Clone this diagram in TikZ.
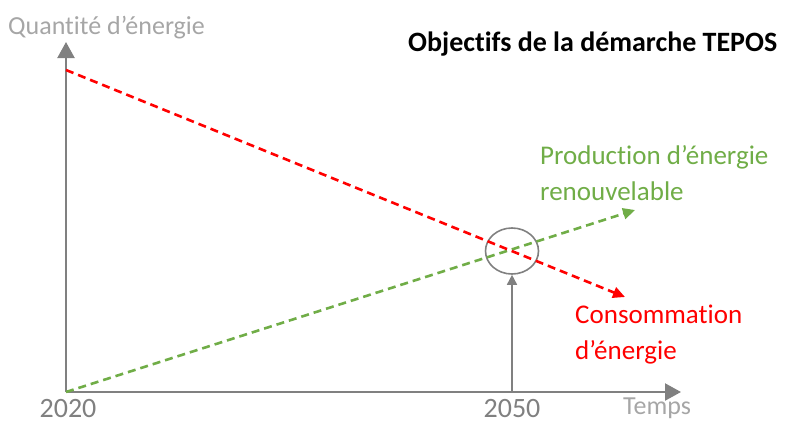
\documentclass[tikz,border=0pt]{standalone}
\usepackage{fontspec}
\setmainfont{Carlito}[Ligatures=NoCommon]
\usetikzlibrary{arrows.meta,shapes.geometric}
\definecolor{axegris}{HTML}{808080}
\definecolor{textegris}{HTML}{A6A6A6}
\definecolor{prodvert}{HTML}{70AD47}
\definecolor{consorouge}{HTML}{FF0000}

\begin{document}
\begin{tikzpicture}[x=1pt,y=-1pt,
		axe/.style={draw=axegris,line width=2.2pt,-{Triangle[length=16pt,width=17pt]}},
		fleche2050/.style={draw=axegris,line width=1.6pt,-{Triangle[length=10pt,width=10pt]}},
		courbe/.style={line width=2.6pt,dash pattern=on 8pt off 5pt,-{Triangle[length=12pt,width=11pt]}},
		etiquette/.style={inner sep=0pt,font=\fontsize{27}{36}\selectfont}]
		\useasboundingbox (0,0) rectangle (792,423);
%		\draw[help lines] (0,0) grid (792,423);
		\path (66,392) coordinate (origine);
		\path (66,42) coordinate (ytip);
		\path (681,392) coordinate (xtip);
		\path (512,392) coordinate (an2050);
		\path (66,70) coordinate (conso_debut);
		\path (625,297) coordinate (conso_fin);
		\path (635,210) coordinate (prod_fin);

		\node (cible) [ellipse,draw=axegris,line width=1.6pt,minimum width=53pt,minimum height=46pt,inner sep=0pt] at (512,251) {};
		\draw[axe] (origine) -- (ytip);
		\draw[axe] (origine) -- (xtip);
		\draw[fleche2050] (an2050) -- (cible.south);
		\draw[courbe,prodvert] (origine) -- (prod_fin);
		\draw[courbe,consorouge] (conso_debut) -- (conso_fin);

		\node (ordonnee) [etiquette,font=\fontsize{26}{30}\selectfont,textegris,anchor=base west] at (8,34) {Quantité d’énergie};
		\node (titre) [etiquette,font=\bfseries\fontsize{28}{34}\selectfont,anchor=base west] at (408,51) {Objectifs de la démarche TEPOS};
		\node (production) [etiquette,prodvert,align=left,anchor=north west] at (540,145) {Production d’énergie\\renouvelable};
		\node (consommation) [etiquette,consorouge,align=left,anchor=north west] at (575,305) {Consommation\\d’énergie};
		\node (an2020) [etiquette,font=\fontsize{28}{34}\selectfont,axegris,text depth=0pt,anchor=base] at (68,417) {2020};
		\node (lbl2050) [etiquette,font=\fontsize{28}{34}\selectfont,axegris,text depth=0pt,anchor=base] at (512,417) {2050};
		\node (temps) [etiquette,font=\fontsize{26}{30}\selectfont,textegris,anchor=base west] at (623,414) {Temps};
	\end{tikzpicture}
\end{document}
